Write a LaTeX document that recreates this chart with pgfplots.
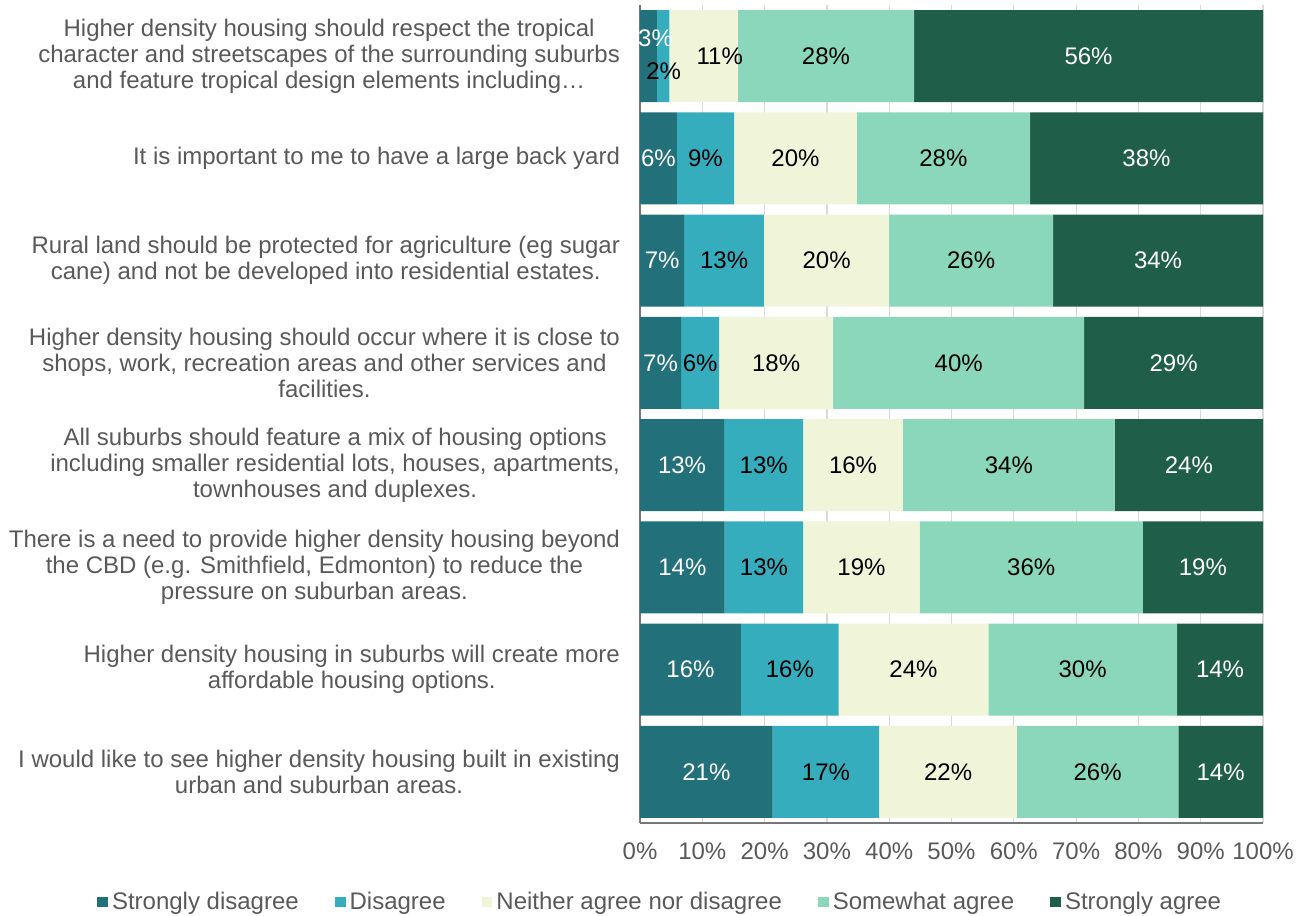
\documentclass[border=0pt]{standalone}
\usepackage{fontspec}
\setmainfont{Liberation Sans}
\usepackage{pgfplots}
\usepackage{pgfplotstable}
\pgfplotsset{compat=1.18}
\definecolor{csd}{RGB}{34,112,122}
\definecolor{cd}{RGB}{53,173,189}
\definecolor{cn}{RGB}{240,245,218}
\definecolor{cso}{RGB}{139,215,188}
\definecolor{csa}{RGB}{31,94,72}
\definecolor{txt}{RGB}{89,89,89}
\definecolor{grd}{RGB}{217,217,217}
\definecolor{axl}{RGB}{118,118,118}

\pgfplotstableread{
y SD D N SO SA
0 21.3 17.1 22.1 25.9 13.6
1 16.2 15.7 24.0 30.3 13.8
2 13.6 12.6 18.7 35.8 19.3
3 13.5 12.7 16.0 34.0 23.8
4 6.6 6.1 18.3 40.3 28.7
5 7.1 12.8 20.1 26.3 33.7
6 5.9 9.2 19.7 27.8 37.4
7 2.7 2.0 11.0 28.3 56.0
}\bars

\pgfplotstableread{
x y l
10.65 0 21
8.1 1 16
6.8 2 14
6.75 3 13
3.3 4 7
3.55 5 7
2.95 6 6
2.5 7.17 3
93.2 0 14
93.1 1 14
90.35 2 19
88.1 3 24
85.65 4 29
83.15 5 34
81.3 6 38
72 7 56
}\whitelabels

\pgfplotstableread{
x y l
29.85 0 17
24.05 1 16
19.9 2 13
19.85 3 13
9.65 4 6
13.5 5 13
10.5 6 9
3.8 6.85 2
49.45 0 22
43.9 1 24
35.55 2 19
34.2 3 16
21.85 4 18
29.95 5 20
24.95 6 20
12.8 7 11
73.45 0 26
71.05 1 30
62.8 2 36
59.2 3 34
51.15 4 40
53.15 5 26
48.7 6 28
29.85 7 28
}\blacklabels

\begin{document}
\begin{tikzpicture}[font=\fontsize{12}{13}\selectfont]
\path[use as bounding box] (0,0) rectangle (652.5pt,457.5pt);
\begin{axis}[
  at={(320pt,46pt)}, anchor=south west,
  scale only axis, width=311.5pt, height=409pt,
  xbar stacked, bar width=46pt,
  xmin=0, xmax=100, ymin=-0.5, ymax=7.5,
  xtick={0,10,...,100},
  xticklabel={\pgfmathprintnumber{\tick}\%},
  /pgf/number format/assume math mode=true,
  xticklabel style={text=txt, yshift=-6.5pt},
  ytick={0,...,7},
  yticklabels={
    {I would like to see higher density housing built in existing\\urban and suburban areas.},
    {Higher density housing in suburbs will create more\\affordable housing options.},
    {There is a need to provide higher density housing beyond\\the CBD (e.g. Smithfield, Edmonton) to reduce the\\pressure on suburban areas.},
    {All suburbs should feature a mix of housing options\\including smaller residential lots, houses, apartments,\\townhouses and duplexes.},
    {Higher density housing should occur where it is close to\\shops, work, recreation areas and other services and\\facilities.},
    {Rural land should be protected for agriculture (eg sugar\\cane) and not be developed into residential estates.},
    {It is important to me to have a large back yard},
    {Higher density housing should respect the tropical\\character and streetscapes of the surrounding suburbs\\and feature tropical design elements including…}
  },
  yticklabel style={align=center, text=txt, xshift=-6.5pt},
  tick style={draw=none},
  axis x line*=bottom, axis y line*=left,
  axis line style={draw=axl, line width=1pt},
  xmajorgrids, grid style={draw=grd, line width=0.6pt},
  legend columns=5,
  legend style={at={(axis description cs:0.034,-0.0966)}, anchor=center,
    draw=none, fill=none, text=txt,
    /tikz/every even column/.append style={column sep=16pt},
    nodes={inner sep=2pt}},
  legend image code/.code={\fill[#1] (0pt,-2.7pt) rectangle (5.4pt,2.7pt);},
]
\addplot[fill=csd, draw=none] table[x=SD, y=y] {\bars};
\addplot[fill=cd, draw=none] table[x=D, y=y] {\bars};
\addplot[fill=cn, draw=none] table[x=N, y=y] {\bars};
\addplot[fill=cso, draw=none] table[x=SO, y=y] {\bars};
\addplot[fill=csa, draw=none] table[x=SA, y=y] {\bars};
\legend{Strongly disagree, Disagree, Neither agree nor disagree, Somewhat agree, Strongly agree}
\end{axis}
\begin{axis}[
  at={(320pt,46pt)}, anchor=south west,
  scale only axis, width=311.5pt, height=409pt,
  xmin=0, xmax=100, ymin=-0.5, ymax=7.5,
  hide axis,
]
\addplot[only marks, mark=none, nodes near coords={\pgfplotspointmeta\%},
  point meta=explicit symbolic,
  every node near coord/.append style={anchor=center, text=white, inner sep=0pt}]
  table[x=x, y=y, meta=l] {\whitelabels};
\addplot[only marks, mark=none, nodes near coords={\pgfplotspointmeta\%},
  point meta=explicit symbolic,
  every node near coord/.append style={anchor=center, text=black, inner sep=0pt}]
  table[x=x, y=y, meta=l] {\blacklabels};
\end{axis}
\end{tikzpicture}
\end{document}
